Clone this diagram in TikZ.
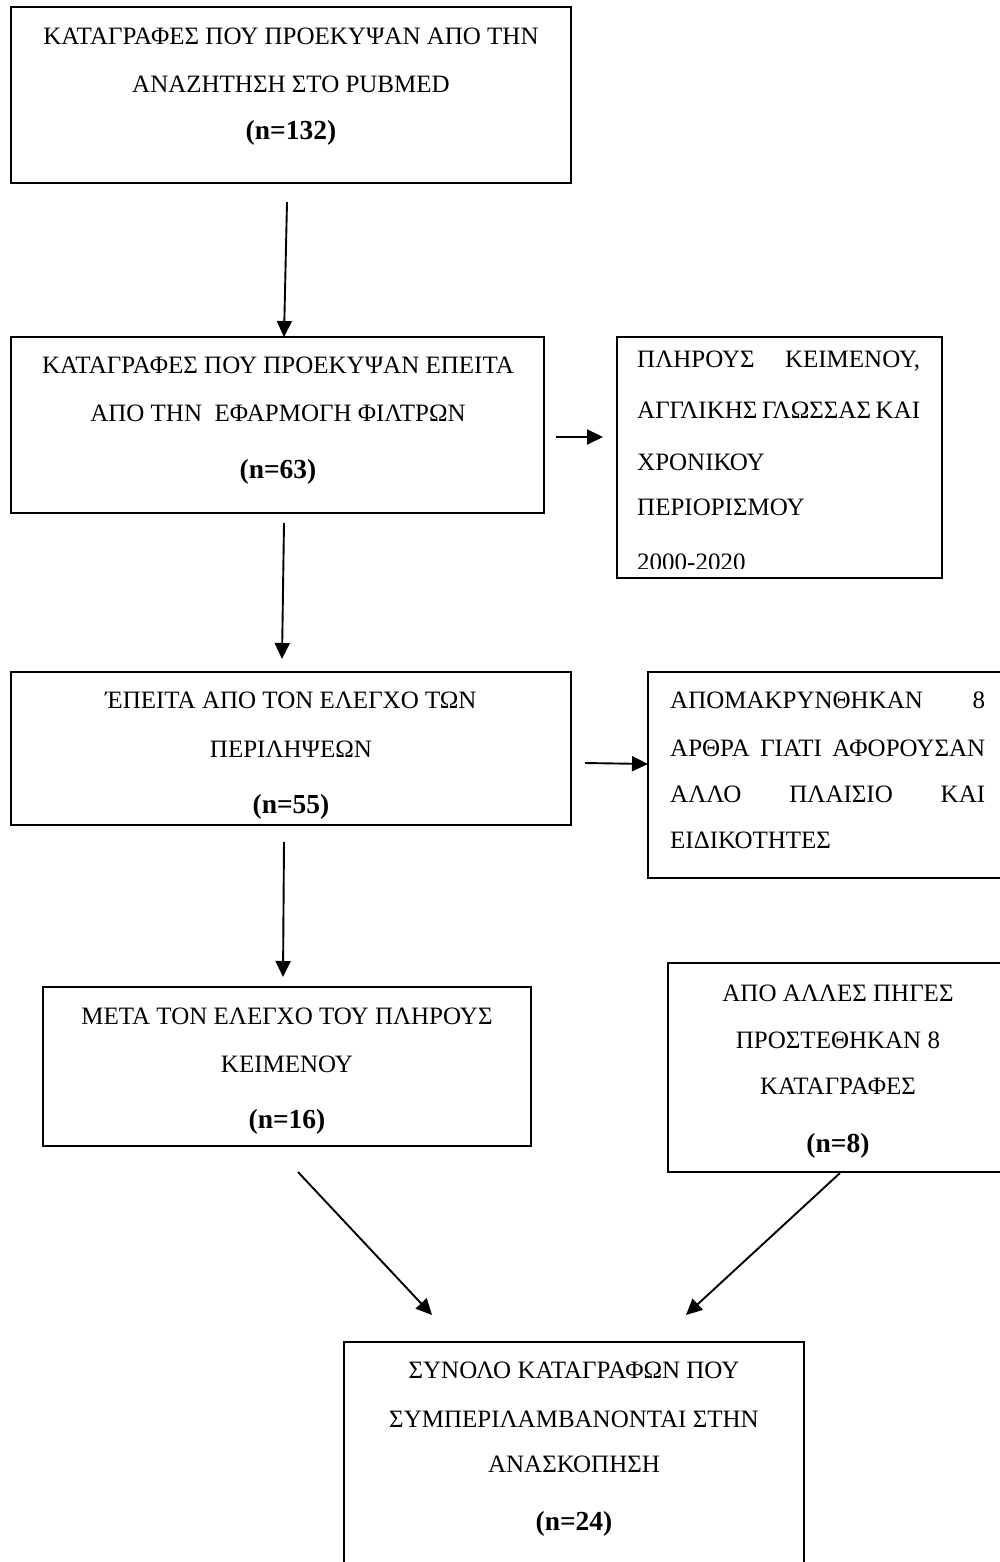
\documentclass[tikz,border=0pt]{standalone}
\usepackage{fontspec}
\setmainfont{Liberation Serif}
\usetikzlibrary{arrows.meta}
\begin{document}
\begin{tikzpicture}[x=1pt,y=-1pt,
  box/.style={draw, line width=1.7pt, inner sep=0pt},
  arr/.style={line width=1.9pt, -{Triangle[length=16pt,width=15pt]}},
  txt/.style={anchor=base, inner sep=0pt, font=\fontsize{25}{30}\selectfont},
  num/.style={txt, font=\fontsize{27.5}{32}\selectfont\bfseries},
  ltxt/.style={txt, anchor=base west}]
\useasboundingbox (0,0) rectangle (999,1562);
\fill[white] (0,0) rectangle (999,1562);
% boxes
\node[box, minimum width=560pt, minimum height=176pt] (b1) at (291,95) {};
\node[box, minimum width=533pt, minimum height=176pt] (b2) at (277.5,425) {};
\node[box, minimum width=325pt, minimum height=241pt] (b3) at (779.5,457.5) {};
\node[box, minimum width=560pt, minimum height=153pt] (b4) at (291,748.5) {};
\node[box, minimum width=362pt, minimum height=206pt] (b5) at (829,775) {};
\node[box, minimum width=488pt, minimum height=159pt] (b6) at (287,1066.5) {};
\node[box, minimum width=340pt, minimum height=209pt] (b7) at (838,1067.5) {};
\node[box, minimum width=460pt, minimum height=238pt] (b8) at (574,1461) {};
% texts box 1
\node[txt] (t1a) at (291,45) {ΚΑΤΑΓΡΑΦΕΣ ΠΟΥ ΠΡΟΕΚΥΨΑΝ ΑΠΟ ΤΗΝ};
\node[txt] (t1b) at (291,93) {ΑΝΑΖΗΤΗΣΗ ΣΤΟ PUBMED};
\node[num] (t1c) at (291,140) {(n=132)};
% box 2
\node[txt] (t2a) at (278,373) {ΚΑΤΑΓΡΑΦΕΣ ΠΟΥ ΠΡΟΕΚΥΨΑΝ ΕΠΕΙΤΑ};
\node[txt] (t2b) at (278,421) {ΑΠΟ ΤΗΝ\ \ ΕΦΑΡΜΟΓΗ ΦΙΛΤΡΩΝ};
\node[num] (t2c) at (278,478) {(n=63)};
% box 3
\node[ltxt] (t3a) at (637,367) {\hbox to 283pt{ΠΛΗΡΟΥΣ\hfill ΚΕΙΜΕΝΟΥ,}};
\node[ltxt] (t3b) at (637,418) {\makebox[283pt][s]{ΑΓΓΛΙΚΗΣ ΓΛΩΣΣΑΣ ΚΑΙ}};
\node[ltxt] (t3c) at (637,470) {ΧΡΟΝΙΚΟΥ};
\node[ltxt] (t3d) at (637,515) {ΠΕΡΙΟΡΙΣΜΟΥ};
\begin{scope}
\clip (617,337) rectangle (942,568);
\node[ltxt] (t3e) at (637,570) {2000-2020};
\end{scope}
% box 4
\node[txt] (t4a) at (291,708) {ΈΠΕΙΤΑ ΑΠΟ ΤΟΝ ΕΛΕΓΧΟ ΤΩΝ};
\node[txt] (t4b) at (291,757) {ΠΕΡΙΛΗΨΕΩΝ};
\node[num] (t4c) at (291,813) {(n=55)};
% box 5
\node[ltxt] (t5a) at (670,708) {\hbox to 315pt{ΑΠΟΜΑΚΡΥΝΘΗΚΑΝ\hfill 8}};
\node[ltxt] (t5b) at (670,756) {\makebox[315pt][s]{ΑΡΘΡΑ ΓΙΑΤΙ ΑΦΟΡΟΥΣΑΝ}};
\node[ltxt] (t5c) at (670,802) {\hbox to 315pt{ΑΛΛΟ\hfill ΠΛΑΙΣΙΟ\hfill ΚΑΙ}};
\node[ltxt] (t5d) at (670,848) {ΕΙΔΙΚΟΤΗΤΕΣ};
% box 6
\node[txt] (t6a) at (287,1024) {ΜΕΤΑ ΤΟΝ ΕΛΕΓΧΟ ΤΟΥ ΠΛΗΡΟΥΣ};
\node[txt] (t6b) at (287,1072) {ΚΕΙΜΕΝΟΥ};
\node[num] (t6c) at (287,1128) {(n=16)};
% box 7
\node[txt] (t7a) at (838,1001) {ΑΠΟ ΑΛΛΕΣ ΠΗΓΕΣ};
\node[txt] (t7b) at (838,1048) {ΠΡΟΣΤΕΘΗΚΑΝ 8};
\node[txt] (t7c) at (838,1094) {ΚΑΤΑΓΡΑΦΕΣ};
\node[num] (t7d) at (838,1152) {(n=8)};
% box 8
\node[txt] (t8a) at (574,1378) {ΣΥΝΟΛΟ ΚΑΤΑΓΡΑΦΩΝ ΠΟΥ};
\node[txt] (t8b) at (574,1427) {ΣΥΜΠΕΡΙΛΑΜΒΑΝΟΝΤΑΙ ΣΤΗΝ};
\node[txt] (t8c) at (574,1472) {ΑΝΑΣΚΟΠΗΣΗ};
\node[num] (t8d) at (574,1530) {(n=24)};
% arrows
\coordinate (a1s) at (287,202);  \coordinate (a1e) at (284,337);
\coordinate (a2s) at (556,437);  \coordinate (a2e) at (603,437);
\coordinate (a3s) at (284,523);  \coordinate (a3e) at (282,659);
\coordinate (a4s) at (585,763);  \coordinate (a4e) at (648,764);
\coordinate (a5s) at (284,842);  \coordinate (a5e) at (283,977);
\coordinate (a6s) at (298,1172); \coordinate (a6e) at (432,1315);
\coordinate (a7s) at (840,1173); \coordinate (a7e) at (686,1315);
\draw[arr] (a1s) -- (a1e);
\draw[arr] (a2s) -- (a2e);
\draw[arr] (a3s) -- (a3e);
\draw[arr] (a4s) -- (a4e);
\draw[arr] (a5s) -- (a5e);
\draw[arr] (a6s) -- (a6e);
\draw[arr] (a7s) -- (a7e);
\end{tikzpicture}
\end{document}
